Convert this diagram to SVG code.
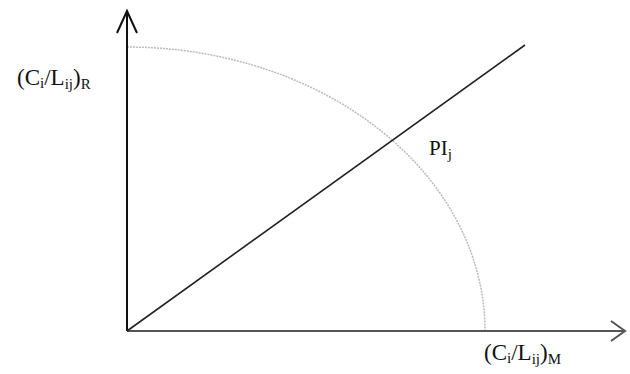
<svg xmlns="http://www.w3.org/2000/svg" width="630" height="374" viewBox="0 0 630 374">
<style>
.ax{stroke:#111;stroke-width:2;fill:none}
.arc{stroke:#bbb;stroke-width:1.5;fill:none;stroke-dasharray:2 1}
.t{font-family:"Liberation Serif",serif;font-size:23px;fill:#111}
.s{font-size:15px}
</style>
<rect width="630" height="374" fill="#fff"/>
<g id="arc"><path class="arc" d="M127,47 A358,284 0 0 1 485,331"/></g>
<g id="connectors">
<path class="ax" d="M127,331 V11 M117,33 L127,11 L137,33"/>
<path class="ax" d="M127,331 H624 M611,321 L625,331 L611,341" style="stroke:#555"/>
<path d="M127,331 L525,45" stroke="#222" stroke-width="1.6" fill="none"/>
</g>
<g id="labelR"><text class="t" x="17" y="85">(C<tspan class="s" dy="3">i</tspan><tspan dy="-3">/L</tspan><tspan class="s" dy="4">ij</tspan><tspan dy="-4">)</tspan><tspan class="s" dy="4">R</tspan></text></g>
<g id="labelPI"><text class="t" x="429" y="155" style="font-size:21px">PI<tspan class="s" dy="4">j</tspan></text></g>
<g id="labelM"><text class="t" x="484" y="360">(C<tspan class="s" dy="3">i</tspan><tspan dy="-3">/L</tspan><tspan class="s" dy="4">ij</tspan><tspan dy="-4">)</tspan><tspan class="s" dy="4">M</tspan></text></g>
</svg>
